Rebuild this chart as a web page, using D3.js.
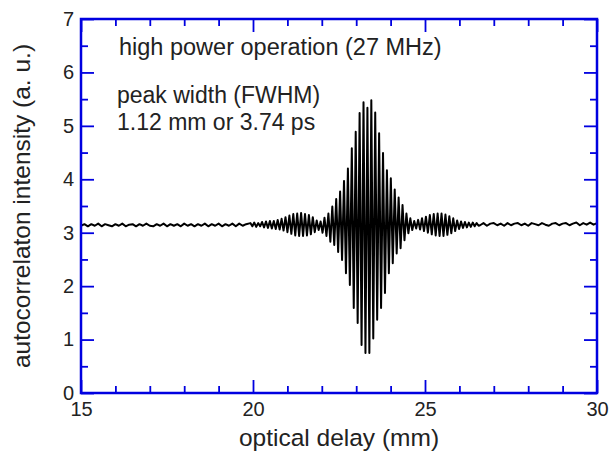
<!DOCTYPE html>
<html>
<head>
<meta charset="utf-8">
<script src="https://cdnjs.cloudflare.com/ajax/libs/d3/7.8.5/d3.min.js"></script>
<style>
  body { margin: 0; background: #fff; }
  text { font-family: "Liberation Sans", Arial, sans-serif; fill: #222; }
</style>
</head>
<body>
<div id="plot"></div>
<script>
const xTicks = [15, 20, 25, 30];
const xMinor = [16, 17, 18, 19, 21, 22, 23, 24, 26, 27, 28, 29];
const yTicks = [0, 1, 2, 3, 4, 5, 6, 7];
const yMinor = [0.5, 1.5, 2.5, 3.5, 4.5, 5.5, 6.5];

// flat part left of the packet, one reading every 0.1 mm from 15.0
const baseStep = 0.1;
const baseLeftStart = 15.0;
const baseLeft = [
  3.13, 3.16, 3.12, 3.16, 3.13, 3.17, 3.12, 3.16, 3.14, 3.12,
  3.16, 3.13, 3.17, 3.12, 3.15, 3.16, 3.12, 3.16, 3.13, 3.17,
  3.13, 3.12, 3.16, 3.13, 3.17, 3.12, 3.16, 3.13, 3.16, 3.12,
  3.17, 3.13, 3.16, 3.12, 3.16, 3.13, 3.17, 3.12, 3.16, 3.13,
  3.17, 3.12, 3.16, 3.13, 3.17, 3.12, 3.17, 3.13, 3.16
];

// flat part right of the packet, from 26.6 mm
const baseRightStart = 26.6;
const baseRight = [
  3.14, 3.18, 3.13, 3.17, 3.18, 3.14, 3.17, 3.13, 3.18, 3.14,
  3.17, 3.18, 3.14, 3.17, 3.13, 3.18, 3.16, 3.14, 3.18, 3.15,
  3.13, 3.17, 3.18, 3.14, 3.17, 3.18, 3.14, 3.17, 3.19, 3.14,
  3.18, 3.15, 3.19, 3.15, 3.18
];

// fringes: first peak position and spacing (mm), then top and bottom of each fringe
const fringeStart = 19.924;
const fringePeriod = 0.1134;
const fringePeaks = [
  3.18, 3.19, 3.18, 3.20, 3.21, 3.22, 3.22, 3.24, 3.26, 3.29,
  3.32, 3.35, 3.36, 3.37, 3.35, 3.33, 3.29, 3.23, 3.21, 3.28,
  3.36, 3.49, 3.63, 3.77, 3.97, 4.20, 4.58, 4.89, 5.24, 5.44,
  5.34, 5.48, 5.25, 4.86, 4.49, 4.17, 4.02, 3.81, 3.66, 3.52,
  3.36, 3.27, 3.22, 3.24, 3.27, 3.30, 3.33, 3.35, 3.36, 3.36,
  3.34, 3.31, 3.27, 3.23, 3.21, 3.20, 3.19, 3.19, 3.18
];
const fringeTroughs = [
  3.12, 3.11, 3.12, 3.10, 3.09, 3.08, 3.07, 3.06, 3.04, 3.01,
  2.98, 2.95, 2.94, 2.94, 2.95, 2.97, 3.01, 3.05, 3.00, 2.94,
  2.83, 2.77, 2.64, 2.49, 2.24, 2.02, 1.59, 1.31, 0.90, 0.75,
  0.75, 1.02, 1.37, 1.59, 1.87, 2.24, 2.43, 2.61, 2.71, 2.86,
  2.99, 3.05, 3.08, 3.06, 3.03, 3.00, 2.97, 2.95, 2.94, 2.94,
  2.96, 2.99, 3.03, 3.07, 3.09, 3.10, 3.11, 3.12, 3.13
];

const annotations = ["high power operation (27 MHz)", "peak width (FWHM)", "1.12 mm or 3.74 ps"];

function buildTrace() {
  const pts = [];
  baseLeft.forEach((v, i) => pts.push([baseLeftStart + i * baseStep, v]));
  fringePeaks.forEach((v, i) => {
    pts.push([fringeStart + i * fringePeriod, v]);
    pts.push([fringeStart + (i + 0.5) * fringePeriod, fringeTroughs[i]]);
  });
  baseRight.forEach((v, i) => pts.push([baseRightStart + i * baseStep, v]));
  return pts;
}

function constructPlot(data) {
  const w = 613;
  const h = 458;
  const left = 81, right = 597, top = 19, bottom = 393;
  const blue = "#0000e0";

  const xScale = d3.scaleLinear().domain([15, 30]).range([left, right]);
  const yScale = d3.scaleLinear().domain([0, 7]).range([bottom, top]);

  const svg = d3.select("#plot").append("svg")
      .attr("width", w)
      .attr("height", h);

  // ticks on all four sides, pointing in
  function tickGroup(axis, tx, ty) {
    const g = svg.append("g")
        .attr("transform", "translate(" + tx + "," + ty + ")")
        .call(axis);
    g.select(".domain").remove();
    g.selectAll("line").attr("stroke", blue).attr("stroke-width", 1.8);
    return g;
  }

  tickGroup(d3.axisBottom(xScale).tickValues(xMinor).tickSize(-7).tickFormat(""), 0, bottom);
  tickGroup(d3.axisTop(xScale).tickValues(xMinor).tickSize(-7).tickFormat(""), 0, top);
  tickGroup(d3.axisLeft(yScale).tickValues(yMinor).tickSize(-7).tickFormat(""), left, 0);
  tickGroup(d3.axisRight(yScale).tickValues(yMinor).tickSize(-7).tickFormat(""), right, 0);
  tickGroup(d3.axisTop(xScale).tickValues(xTicks).tickSize(-13).tickFormat(""), 0, top);
  tickGroup(d3.axisRight(yScale).tickValues(yTicks).tickSize(-13).tickFormat(""), right, 0);

  const xAxis = tickGroup(d3.axisBottom(xScale).tickValues(xTicks).tickSize(-13).tickPadding(9)
      .tickFormat(d3.format("d")), 0, bottom);
  const yAxis = tickGroup(d3.axisLeft(yScale).tickValues(yTicks).tickSize(-13).tickPadding(7)
      .tickFormat(d3.format("d")), left, 0);
  xAxis.selectAll("text").attr("font-size", 20).attr("fill", "#222")
      .attr("font-family", "Liberation Sans, Arial, sans-serif");
  yAxis.selectAll("text").attr("font-size", 20).attr("fill", "#222")
      .attr("font-family", "Liberation Sans, Arial, sans-serif");

  //-----------------trace-----------------------
  const line = d3.line()
      .x(d => xScale(d[0]))
      .y(d => yScale(d[1]));

  svg.append("path")
      .datum(data)
      .attr("d", line)
      .attr("fill", "none")
      .attr("stroke", "#000")
      .attr("stroke-width", 2)
      .attr("stroke-linejoin", "round");

  svg.append("rect")
      .attr("x", left)
      .attr("y", top)
      .attr("width", right - left)
      .attr("height", bottom - top)
      .attr("fill", "none")
      .attr("stroke", blue)
      .attr("stroke-width", 2.5);

  svg.append("text")
      .attr("x", (left + right) / 2)
      .attr("y", 446)
      .attr("text-anchor", "middle")
      .attr("font-size", 24.5)
      .text("optical delay (mm)");

  svg.append("text")
      .attr("transform", "translate(30," + (top + bottom) / 2 + ") rotate(-90)")
      .attr("text-anchor", "middle")
      .attr("font-size", 24.5)
      .text("autocorrelaton intensity (a. u.)");

  svg.append("text").attr("x", 119).attr("y", 55).attr("font-size", 23.5).text(annotations[0]);
  svg.append("text").attr("x", 117).attr("y", 103).attr("font-size", 23).text(annotations[1]);
  svg.append("text").attr("x", 117).attr("y", 130).attr("font-size", 23).text(annotations[2]);
}

constructPlot(buildTrace());
</script>
</body>
</html>
